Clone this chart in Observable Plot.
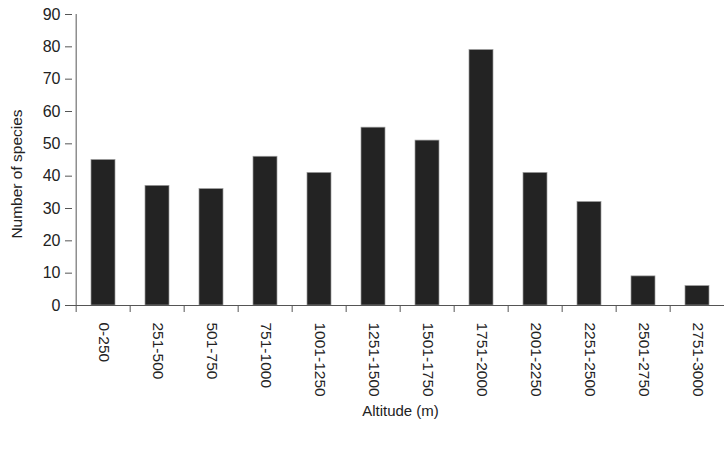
<!DOCTYPE html>
<html>
<head>
<meta charset="utf-8">
<script src="https://cdn.jsdelivr.net/npm/d3@7"></script>
<script src="https://cdn.jsdelivr.net/npm/@observablehq/plot@0.6"></script>
<style>
  html, body { margin: 0; padding: 0; background: #fff; }
  svg { font-family: "Liberation Sans", Arial, sans-serif; }
</style>
</head>
<body>
<div id="chart"></div>
<script>
const categories = ["0-250", "251-500", "501-750", "751-1000", "1001-1250", "1251-1500",
  "1501-1750", "1751-2000", "2001-2250", "2251-2500", "2501-2750", "2751-3000"];
const species = [45, 37, 36, 46, 41, 55, 51, 79, 41, 32, 9, 6];
const yTicks = [0, 10, 20, 30, 40, 50, 60, 70, 80, 90];
const xTitle = "Altitude (m)";
const yTitle = "Number of species";

const data = categories.map((c, i) => ({range: c, count: species[i]}));

const W = 724, H = 458, mL = 72, mR = -4;
const step = (W - mL - mR) / categories.length;
const axisColor = "#555";

const chart = Plot.plot({
  width: W,
  height: H,
  marginLeft: mL,
  marginRight: mR,
  marginTop: 14,
  marginBottom: 153,
  style: {fontFamily: "'Liberation Sans', Arial, sans-serif", fontSize: "15px", color: "#222", background: "#fff", overflow: "visible"},
  x: {domain: categories, paddingInner: 0.56, paddingOuter: 0.28, axis: null},
  y: {domain: [0, 90], axis: null},
  marks: [
    Plot.barY(data, {x: "range", y: "count", fill: "#232323", stroke: "#9a9a9a", strokeWidth: 0.7}),
    Plot.ruleY([0], {stroke: axisColor}),
    Plot.ruleX([categories[0]], {dx: -step / 2, y1: 0, y2: 90, stroke: axisColor}),
    Plot.axisY(yTicks, {tickSize: 7, tickPadding: 5, stroke: axisColor, fill: "#222", fontSize: 16, label: null}),
    Plot.axisX({tickSize: 7, text: null, dx: -step / 2, stroke: axisColor, label: null}),
    Plot.axisX({tickSize: 0, tickRotate: 90, tickPadding: 17, fontSize: 15.5, fill: "#222", label: null}),
    Plot.text([xTitle], {frameAnchor: "bottom", lineAnchor: "middle", textAnchor: "middle", dy: 106, fontSize: 15, fill: "#222"}),
    Plot.text([yTitle], {frameAnchor: "left", rotate: -90, textAnchor: "middle", lineAnchor: "middle", dx: -55, dy: 14, fontSize: 15.5, fill: "#222"})
  ]
});
document.getElementById("chart").appendChild(chart);
</script>
</body>
</html>
